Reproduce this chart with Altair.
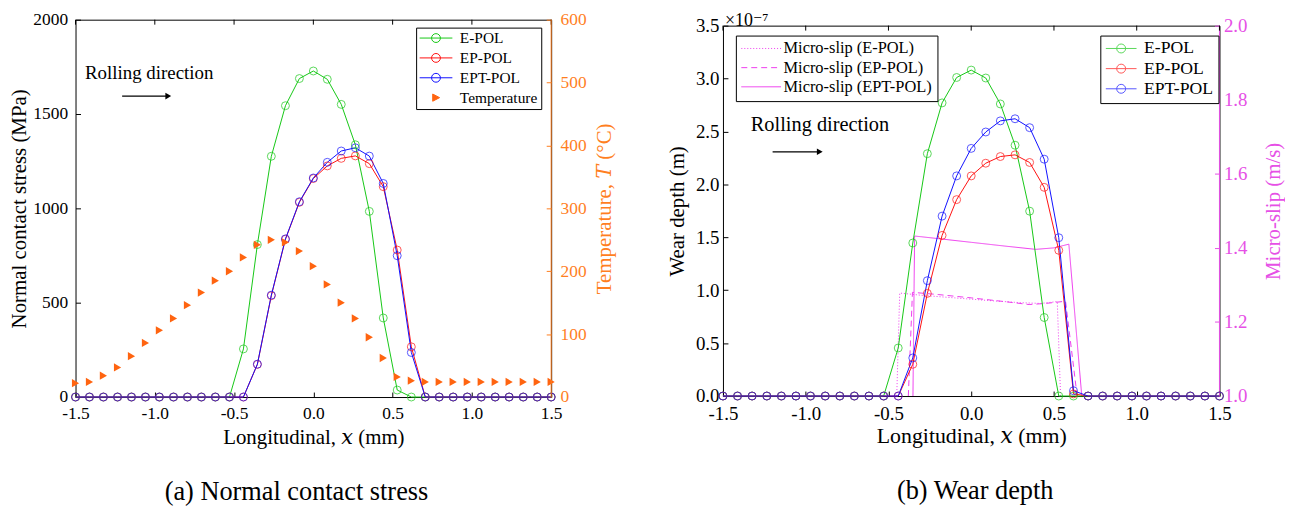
import altair as alt
import pandas as pd

FONT = "Liberation Serif, DejaVu Serif"

# ---------------- shared x grid ----------------
X = [-1.5, -1.412, -1.324, -1.235, -1.147, -1.059, -0.971, -0.882, -0.794, -0.706,
     -0.618, -0.529, -0.441, -0.353, -0.265, -0.176, -0.088, 0.0, 0.088, 0.176,
     0.265, 0.353, 0.441, 0.529, 0.618, 0.706, 0.794, 0.882, 0.971, 1.059,
     1.147, 1.235, 1.324, 1.412, 1.5]
X_TICKS = [-1.5, -1.0, -0.5, 0.0, 0.5, 1.0, 1.5]

SERIES = ["E-POL", "EP-POL", "EPT-POL"]
TEMP_NAME = "Temperature"
LINE_COLORS = ["#16c816", "#ff1010", "#1010ff"]
ORANGE = "#ff6410"
ORANGE_AXIS = "#ff7f1f"
MAGENTA = "#ee3cee"
MAGENTA_AXIS = "#e650e6"

# ---------------- (a) normal contact stress ----------------
STRESS_E = [0, 0, 0, 0, 0, 0, 0, 0, 0, 0,
            0, 0, 255, 808, 1276, 1544, 1688, 1728, 1684, 1551,
            1337, 984, 419, 37, 0, 0, 0, 0, 0, 0,
            0, 0, 0, 0, 0]
STRESS_EP = [0, 0, 0, 0, 0, 0, 0, 0, 0, 0,
             0, 0, 0, 173, 537, 836, 1032, 1158, 1225, 1265,
             1278, 1237, 1115, 779, 266, 0, 0, 0, 0, 0,
             0, 0, 0, 0, 0]
STRESS_EPT = [0, 0, 0, 0, 0, 0, 0, 0, 0, 0,
              0, 0, 0, 174, 540, 838, 1035, 1161, 1244, 1304,
              1321, 1277, 1132, 749, 236, 0, 0, 0, 0, 0,
              0, 0, 0, 0, 0]
TEMP = [22, 24, 34, 47, 65, 86, 106, 125, 146, 166,
        185, 200, 222, 242, 250, 246, 232, 208, 179, 150,
        125, 95, 62, 32, 26, 24, 24, 24, 24, 24,
        24, 24, 24, 24, 24]
STRESS_TICKS = [0, 500, 1000, 1500, 2000]
TEMP_TICKS = [0, 100, 200, 300, 400, 500, 600]

# ---------------- (b) wear depth (x 1e-7 m) ----------------
WEAR_E = [0, 0, 0, 0, 0, 0, 0, 0, 0, 0,
          0, 0, 0.454, 1.446, 2.29, 2.77, 3.01, 3.08, 3.005, 2.76,
          2.37, 1.747, 0.742, 0, 0, 0, 0, 0, 0, 0,
          0, 0, 0, 0, 0]
WEAR_EP = [0, 0, 0, 0, 0, 0, 0, 0, 0, 0,
           0, 0, 0, 0.30, 0.97, 1.518, 1.856, 2.08, 2.20, 2.263,
           2.279, 2.207, 1.972, 1.377, 0.02, 0, 0, 0, 0, 0,
           0, 0, 0, 0, 0]
WEAR_EPT = [0, 0, 0, 0, 0, 0, 0, 0, 0, 0,
            0, 0, 0, 0.36, 1.09, 1.70, 2.08, 2.34, 2.495, 2.60,
            2.62, 2.536, 2.238, 1.496, 0.05, 0, 0, 0, 0, 0,
            0, 0, 0, 0, 0]
WEAR_TICKS = [0.0, 0.5, 1.0, 1.5, 2.0, 2.5, 3.0, 3.5]
SLIP_TICKS = [1.0, 1.2, 1.4, 1.6, 1.8, 2.0]

SLIP_NAMES = ["Micro-slip (E-POL)", "Micro-slip (EP-POL)", "Micro-slip (EPT-POL)"]
SLIP_E_X = [-0.45, -0.432, -0.3, -0.1, 0.1, 0.3, 0.42, 0.52, 0.54]
SLIP_E = [1.0, 1.278, 1.272, 1.265, 1.258, 1.252, 1.25, 1.255, 1.0]
SLIP_EP_X = [-0.38, -0.355, -0.2, 0.0, 0.2, 0.35, 0.45, 0.57, 0.64]
SLIP_EP = [1.0, 1.28, 1.274, 1.265, 1.255, 1.247, 1.25, 1.256, 1.0]
SLIP_EPT_X = [-0.352, -0.342, -0.2, 0.0, 0.2, 0.39, 0.5, 0.59, 0.668]
SLIP_EPT = [1.0, 1.432, 1.425, 1.415, 1.405, 1.396, 1.40, 1.41, 1.0]

ROLL_TEXT = ["Rolling direction"]
ROLL_A_X, ROLL_A_Y = [-1.44], [1716]
ARROW_A_X, ARROW_A_X2, ARROW_A_Y = [-1.206], [-0.915], [1595]
ROLL_B_X, ROLL_B_Y = [-1.332], [2.562]
ARROW_B_X, ARROW_B_X2, ARROW_B_Y = [-1.2], [-0.915], [2.308]

# legend symbols (line with open circle / filled triangle)
LC_A = "M-1,0H1M0.27,0A0.27,0.27,0,1,1,-0.27,0A0.27,0.27,0,1,1,0.27,0"
TRI_A = "M-0.2,-0.22L0.22,0L-0.2,0.22Z"
LC_B = "M-1,0H1M0.29,0A0.29,0.29,0,1,1,-0.29,0A0.29,0.29,0,1,1,0.29,0"

MINUS_EXPR = "replace(format(datum.value, '.1f'), '\u2212', '-')"


def series_col(names, n):
    out = []
    for s in names:
        out += [s] * n
    return out


tick_df = pd.DataFrame({"x": X_TICKS})

# ================= panel (a) =================
stress_df = pd.DataFrame({"x": X * 3, "v": STRESS_E + STRESS_EP + STRESS_EPT,
                          "series": series_col(SERIES, len(X))})
temp_df = pd.DataFrame({"x": X, "t": TEMP})
temp_edge_df = pd.DataFrame({"x": [X_TICKS[-1]], "t": [TEMP_TICKS[0]], "t2": [TEMP_TICKS[-1]]})
leg_a_df = pd.DataFrame({"x": [0.0] * 4, "v": [0.0] * 4, "series": SERIES + [TEMP_NAME]})
roll_a_df = pd.DataFrame({"x": ROLL_A_X, "v": ROLL_A_Y, "label": ROLL_TEXT})
arrow_a_df = pd.DataFrame({"x": ARROW_A_X, "x2": ARROW_A_X2, "v": ARROW_A_Y})
head_a_df = pd.DataFrame({"x": ARROW_A_X2, "v": ARROW_A_Y})

xa = alt.X("x:Q", scale=alt.Scale(domain=[X_TICKS[0], X_TICKS[-1]], nice=False, zero=False),
           axis=alt.Axis(values=X_TICKS, labelExpr=MINUS_EXPR, title="Longitudinal, 𝑥 (mm)",
                         offset=-5, domain=False, tickSize=5, labelPadding=8, titlePadding=4,
                         labelFlush=False, labelFontSize=17.5, titleFontSize=21))
ys = alt.Y("v:Q", scale=alt.Scale(domain=[STRESS_TICKS[0], STRESS_TICKS[-1]], nice=False, zero=False),
           axis=alt.Axis(values=STRESS_TICKS, format="d", title="Normal contact stress (MPa)",
                         offset=-5, domain=False, tickSize=5, labelPadding=8, titlePadding=3,
                         labelFlush=False, labelFontSize=17.5, titleFontSize=21))
yt = alt.Y("t:Q", scale=alt.Scale(domain=[TEMP_TICKS[0], TEMP_TICKS[-1]], nice=False, zero=False),
           axis=alt.Axis(orient="right", values=TEMP_TICKS, format="d", title="Temperature, 𝑇 (°C)",
                         offset=-5, domain=False, tickSize=5, labelPadding=9, titlePadding=8,
                         labelFlush=False,
                         tickColor=ORANGE_AXIS, labelColor=ORANGE_AXIS, titleColor=ORANGE_AXIS,
                         titleAngle=270, titleBaseline="top", labelFontSize=17.5, titleFontSize=21))

# colour scale of the drawn series (data-driven domain)
col_a = alt.Scale(range=LINE_COLORS)
LEG_DOM_A = SERIES + [TEMP_NAME]
LEG_A = alt.Legend(title=None, orient="none", legendX=343, legendY=8, labelFont=FONT,
                   labelFontSize=15.5, labelColor="black", symbolSize=1089, symbolStrokeWidth=1,
                   symbolOpacity=1,
                   strokeColor="black", fillColor="white", padding=3, rowPadding=4.0,
                   clipHeight=15, labelOffset=7, cornerRadius=0)

a_lines = alt.Chart(stress_df).mark_line(strokeWidth=1).encode(
    x=xa, y=ys, color=alt.Color("series:N", scale=col_a, legend=None))
a_pts = alt.Chart(stress_df).mark_point(shape="circle", filled=False, size=64, strokeWidth=1).encode(
    x=xa, y=ys, color=alt.Color("series:N", scale=col_a, legend=None))
a_leg = alt.Chart(leg_a_df).transform_filter("false").mark_point(
    size=1089, strokeWidth=1, opacity=1, fillOpacity=1).encode(
    x=xa, y=ys,
    stroke=alt.Stroke("series:N", scale=alt.Scale(domain=LEG_DOM_A, range=LINE_COLORS + [ORANGE]),
                      legend=LEG_A),
    shape=alt.Shape("series:N", scale=alt.Scale(domain=LEG_DOM_A, range=[LC_A, LC_A, LC_A, TRI_A]),
                    legend=LEG_A),
    fill=alt.Fill("series:N", scale=alt.Scale(domain=LEG_DOM_A, range=["transparent"] * 3 + [ORANGE]),
                  legend=LEG_A))
a_text = alt.Chart(roll_a_df).mark_text(align="left", baseline="middle", font=FONT, fontSize=19,
                                        color="black").encode(x=xa, y=ys, text="label:N")
a_arrow = alt.Chart(arrow_a_df).mark_rule(color="black", strokeWidth=1.2).encode(x=xa, x2="x2:Q", y=ys)
a_head = alt.Chart(head_a_df).mark_point(shape="triangle-right", filled=True, size=45,
                                         color="black", opacity=1).encode(x=xa, y=ys)
a_top = alt.Chart(tick_df).mark_rule(color="black", strokeWidth=1).encode(
    x=xa, y=alt.value(0), y2=alt.value(5))

a_temp = alt.Chart(temp_df).mark_point(shape="triangle-right", filled=True, size=70,
                                       color=ORANGE, opacity=1).encode(x=xa, y=yt)
a_edge = alt.Chart(temp_edge_df).mark_rule(color=ORANGE_AXIS, strokeWidth=1).encode(x=xa, y=yt, y2="t2:Q")

left = alt.layer(
    alt.layer(a_top, a_lines, a_pts, a_leg, a_text, a_arrow, a_head),
    alt.layer(a_temp, a_edge),
).resolve_scale(y="independent").properties(
    width=479, height=380,
    title=alt.TitleParams("(a) Normal contact stress", orient="bottom", frame="group",
                          offset=32, dx=-17, fontSize=26.5, font=FONT, fontWeight="normal"))

# ================= panel (b) =================
wear_df = pd.DataFrame({"x": X * 3, "w": WEAR_E + WEAR_EP + WEAR_EPT,
                        "wseries": series_col(SERIES, len(X))})
slip_df = pd.DataFrame({"x": SLIP_E_X + SLIP_EP_X + SLIP_EPT_X,
                        "s": SLIP_E + SLIP_EP + SLIP_EPT,
                        "slip": series_col(SLIP_NAMES[:1], len(SLIP_E_X))
                        + series_col(SLIP_NAMES[1:2], len(SLIP_EP_X))
                        + series_col(SLIP_NAMES[2:], len(SLIP_EPT_X))})
slip_edge_df = pd.DataFrame({"x": [X_TICKS[-1]], "s": [SLIP_TICKS[0]], "s2": [SLIP_TICKS[-1]]})
leg_b_df = pd.DataFrame({"x": [0.0] * 3, "w": [0.0] * 3, "wseries": SERIES})
roll_b_df = pd.DataFrame({"x": ROLL_B_X, "w": ROLL_B_Y, "label": ROLL_TEXT})
arrow_b_df = pd.DataFrame({"x": ARROW_B_X, "x2": ARROW_B_X2, "w": ARROW_B_Y})
head_b_df = pd.DataFrame({"x": ARROW_B_X2, "w": ARROW_B_Y})

xb = alt.X("x:Q", scale=alt.Scale(domain=[X_TICKS[0], X_TICKS[-1]], nice=False, zero=False),
           axis=alt.Axis(values=X_TICKS, labelExpr=MINUS_EXPR, title="Longitudinal, 𝑥 (mm)",
                         offset=-5, domain=False, tickSize=5, labelPadding=9, titlePadding=2,
                         labelFlush=False, labelFontSize=19, titleFontSize=22))
yw = alt.Y("w:Q", scale=alt.Scale(domain=[WEAR_TICKS[0], WEAR_TICKS[-1]], nice=False, zero=False),
           axis=alt.Axis(values=WEAR_TICKS, format=".1f", title="Wear depth (m)",
                         offset=-5, domain=False, tickSize=5, labelPadding=4, titlePadding=8,
                         labelFlush=False, labelFontSize=19, titleFontSize=21))
ysl = alt.Y("s:Q", scale=alt.Scale(domain=[SLIP_TICKS[0], SLIP_TICKS[-1]], nice=False, zero=False),
            axis=alt.Axis(orient="right", values=SLIP_TICKS, format=".1f", title="Micro-slip (m/s)",
                          offset=-5, domain=False, tickSize=5, labelPadding=4, titlePadding=16,
                          labelFlush=False,
                          tickColor=MAGENTA_AXIS, labelColor=MAGENTA_AXIS, titleColor=MAGENTA_AXIS,
                          titleAngle=270, titleBaseline="top", labelFontSize=19, titleFontSize=21))

col_b = alt.Scale(range=LINE_COLORS)
LEG_B = alt.Legend(title=None, orient="none", legendX=380, legendY=16, labelFont=FONT,
                   labelFontSize=17.8, labelColor="black", symbolSize=961, symbolStrokeWidth=1,
                   strokeColor="black", fillColor="white", padding=5, rowPadding=2.3,
                   clipHeight=16, labelOffset=7, cornerRadius=0)
LEG_S = alt.Legend(title=None, orient="none", legendX=13, legendY=16, labelFont=FONT,
                   labelFontSize=16.5, labelColor="black", symbolSize=1600, symbolStrokeWidth=1,
                   symbolType="stroke", symbolStrokeColor=MAGENTA,
                   strokeColor="black", fillColor="white", padding=5, rowPadding=2.3,
                   clipHeight=16, labelOffset=2, cornerRadius=0)

b_lines = alt.Chart(wear_df).mark_line(strokeWidth=1).encode(
    x=xb, y=yw, color=alt.Color("wseries:N", scale=col_b, legend=None))
b_pts = alt.Chart(wear_df).mark_point(shape="circle", filled=False, size=64, strokeWidth=1).encode(
    x=xb, y=yw, color=alt.Color("wseries:N", scale=col_b, legend=None))
b_leg = alt.Chart(leg_b_df).transform_filter("false").mark_point(size=961, strokeWidth=1, filled=False).encode(
    x=xb, y=yw,
    stroke=alt.Stroke("wseries:N", scale=alt.Scale(domain=SERIES, range=LINE_COLORS), legend=LEG_B),
    shape=alt.Shape("wseries:N", scale=alt.Scale(domain=SERIES, range=[LC_B, LC_B, LC_B]), legend=LEG_B))
b_text = alt.Chart(roll_b_df).mark_text(align="left", baseline="middle", font=FONT, fontSize=20.5,
                                        color="black").encode(x=xb, y=yw, text="label:N")
b_arrow = alt.Chart(arrow_b_df).mark_rule(color="black", strokeWidth=1.2).encode(x=xb, x2="x2:Q", y=yw)
b_head = alt.Chart(head_b_df).mark_point(shape="triangle-right", filled=True, size=45,
                                         color="black", opacity=1).encode(x=xb, y=yw)
b_top = alt.Chart(tick_df).mark_rule(color="black", strokeWidth=1).encode(
    x=xb, y=alt.value(0), y2=alt.value(5))

b_slip = alt.Chart(slip_df).mark_line(color=MAGENTA, strokeWidth=1).encode(
    x=xb, y=ysl,
    strokeDash=alt.StrokeDash("slip:N", scale=alt.Scale(domain=SLIP_NAMES, range=[[1, 2], [6, 4], [1, 0]]),
                              legend=LEG_S))
b_edge = alt.Chart(slip_edge_df).mark_rule(color=MAGENTA_AXIS, strokeWidth=1).encode(x=xb, y=ysl, y2="s2:Q")

right_plot = alt.layer(
    alt.layer(b_slip, b_edge),
    alt.layer(b_top, b_lines, b_pts, b_leg, b_text, b_arrow, b_head),
).resolve_scale(y="independent").properties(
    width=500, height=373,
    title=alt.TitleParams("(b) Wear depth", orient="bottom", frame="group", offset=32, dx=4,
                          fontSize=26.5, font=FONT, fontWeight="normal"))

# thin strip above panel (b) carrying the axis multiplier
spacer = alt.Chart(pd.DataFrame({"s": [0]})).mark_text(text="").encode(
    x=alt.value(0), y=alt.value(0)).properties(
    width=500, height=6, view=alt.ViewBackground(stroke="transparent"),
    title=alt.TitleParams("×10⁻⁷", anchor="start", frame="group", offset=-16, dx=2,
                          fontSize=18, font=FONT, fontWeight="normal"))

right = alt.vconcat(spacer, right_plot, spacing=0, bounds="flush")

chart = alt.hconcat(left, right, spacing=173, bounds="flush").resolve_scale(
    color="independent", stroke="independent", shape="independent", fill="independent",
    strokeDash="independent"
).properties(
    padding={"left": 0, "top": 0, "right": 0, "bottom": 0}
).configure_view(stroke="black", strokeWidth=1).configure_axis(
    grid=False, labelFont=FONT, titleFont=FONT, titleFontWeight="normal",
    tickColor="black", labelColor="black", titleColor="black", domainColor="black"
).configure_title(font=FONT, fontWeight="normal", color="black")

chart.save("out.html", embed_options={"renderer": "svg", "actions": False})
